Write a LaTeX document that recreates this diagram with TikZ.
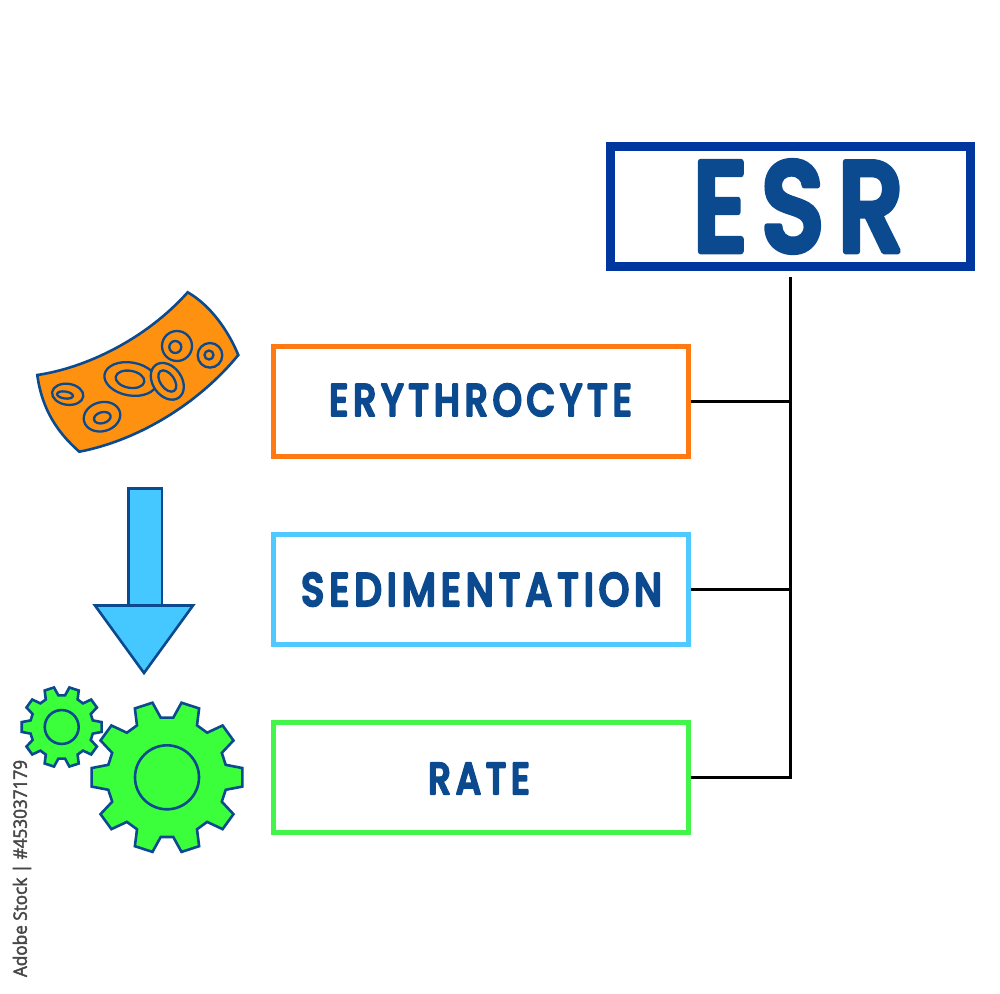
\documentclass[tikz,border=0pt]{standalone}
\usepackage{fontspec}
\usepackage{graphicx}
\setmainfont{Poppins}[UprightFont=*-Medium]
\newfontfamily\sidefont{Open Sans}
\definecolor{navy}{HTML}{0B4A8F}
\definecolor{esrblue}{HTML}{00379E}
\definecolor{orangeline}{HTML}{FF7A12}
\definecolor{cyanline}{HTML}{4FC9FF}
\definecolor{greenline}{HTML}{43F54A}
\definecolor{cellfill}{HTML}{FF9110}
\definecolor{arrowfill}{HTML}{45C8FF}
\definecolor{gearfill}{HTML}{3CFF3C}
\newcommand{\fitted}[3]{\resizebox{#1pt}{#2pt}{#3}}
\newcommand{\roundword}[2]{\special{pdf:code q 2 Tr 1 j 1 J #1 w 0.043 0.29 0.56 RG}#2\special{pdf:code 0 Tr Q}}
\newcommand{\thickgray}[1]{\special{pdf:code q 2 Tr 1 j 0.25 w 0.28 G}#1\special{pdf:code 0 Tr Q}}
\newcommand{\gearshape}[3]{%
  \begin{scope}[shift={(#1,#2)}]
    \draw[shapeline,fill=gearfill] (-12:60*#3)
      \foreach \a in {0,36,...,324} {
        -- (\a-12:60*#3) -- (\a-7:76*#3) -- (\a+7:76*#3) -- (\a+12:60*#3)
      } -- cycle;
    \draw[shapeline] (0,0) circle ({32*#3});
  \end{scope}}
\tikzset{
  labelbox/.style={draw=#1,line width=5pt,fill=white,minimum width=414.5pt,minimum height=110pt,inner sep=0pt,outer sep=2.5pt},
  wordnode/.style={inner sep=0pt,outer sep=0pt,text=navy},
  shapeline/.style={draw=navy,line width=2.6pt,line join=miter},
  cellline/.style={draw=navy,line width=2.3pt},
  wire/.style={draw=black,line width=3pt},
}
\begin{document}
\begin{tikzpicture}[x=1pt,y=-1pt]
\useasboundingbox[fill=white] (0,0) rectangle (1000,993);
% title
\node[draw=esrblue,line width=9pt,fill=white,minimum width=360pt,minimum height=120pt,inner sep=0pt,outer sep=0pt] (esrbox) at (790.8,206.7) {};
\node[wordnode] (esrword) at (798.5,206.5) {\fitted{212}{90}{\addfontfeature{LetterSpace=12}\roundword{0.5}{ESR}}};
% label boxes
\node[labelbox=orangeline] (erybox) at (480.75,401.5) {};
\node[labelbox=cyanline] (sedbox) at (480.75,589.5) {};
\node[labelbox=greenline] (ratebox) at (480.75,777.5) {};
\node[wordnode] (eryword) at (480.5,400) {\fitted{303}{32}{\addfontfeature{LetterSpace=12}\roundword{0.5}{ERYTHROCYTE}}};
\node[wordnode] (sedword) at (481.5,589.5) {\fitted{361}{33}{\addfontfeature{LetterSpace=12}\roundword{0.5}{SEDIMENTATION}}};
\node[wordnode] (rateword) at (479,778.5) {\fitted{102}{31}{\addfontfeature{LetterSpace=12}\roundword{0.5}{RATE}}};
% connectors
\coordinate (stemtop) at (790,277);
\coordinate (stembottom) at (790,778.5);
\draw[wire] (stemtop) -- (stembottom);
\draw[wire] (erybox.east) -- (erybox.east -| stemtop);
\draw[wire] (sedbox.east) -- (sedbox.east -| stemtop);
\draw[wire] (ratebox.east) -- (ratebox.east -| stemtop);
% blood vessel
\draw[shapeline,fill=cellfill] (37.3,375) .. controls (85,368) and (145,340) .. (187.7,292.3)
  .. controls (210,305) and (228,330) .. (238.3,355)
  .. controls (200,402) and (140,440) .. (79.3,451.7)
  .. controls (58,433) and (42,410) .. cycle;
\foreach \cx/\cy/\ra/\rb/\rot/\ix/\iy/\ia/\ib in {
  67.7/394.3/15.7/10.5/-8/65/395/8/3.5,
  102/416.7/18.5/14.5/15/102.3/417.7/8.5/5.5,
  130.7/379/26.5/16.5/-10/130/379.3/14.5/8.5,
  167.3/381.3/20/14.5/-55/167.3/381/12/7,
  177/346/15/15/0/175.3/347/6/6,
  210/355.3/12.3/12.3/0/209/355/4.5/4.5} {
  \draw[cellline,fill=cellfill] (\cx,\cy) ellipse[x radius=\ra,y radius=\rb,rotate=\rot];
  \draw[cellline] (\ix,\iy) ellipse[x radius=\ia,y radius=\ib,rotate=\rot];
}
% down arrow
\draw[shapeline,fill=arrowfill] (128.7,605.5) -- (128.7,488.7) -- (162,488.7) -- (162,605.5);
\draw[shapeline,fill=arrowfill] (95,605.5) -- (193,605.5) -- (144,673) -- cycle;
% gears
\gearshape{167}{777.3}{1}
\gearshape{61.7}{727}{0.53}
% side credit
\node[inner sep=0pt,outer sep=0pt,rotate=90,text=black!72] (credit) at (22,868.5) {\fitted{217}{14}{\sidefont \thickgray{Adobe Stock | \#453037179}}};
\end{tikzpicture}
\end{document}
